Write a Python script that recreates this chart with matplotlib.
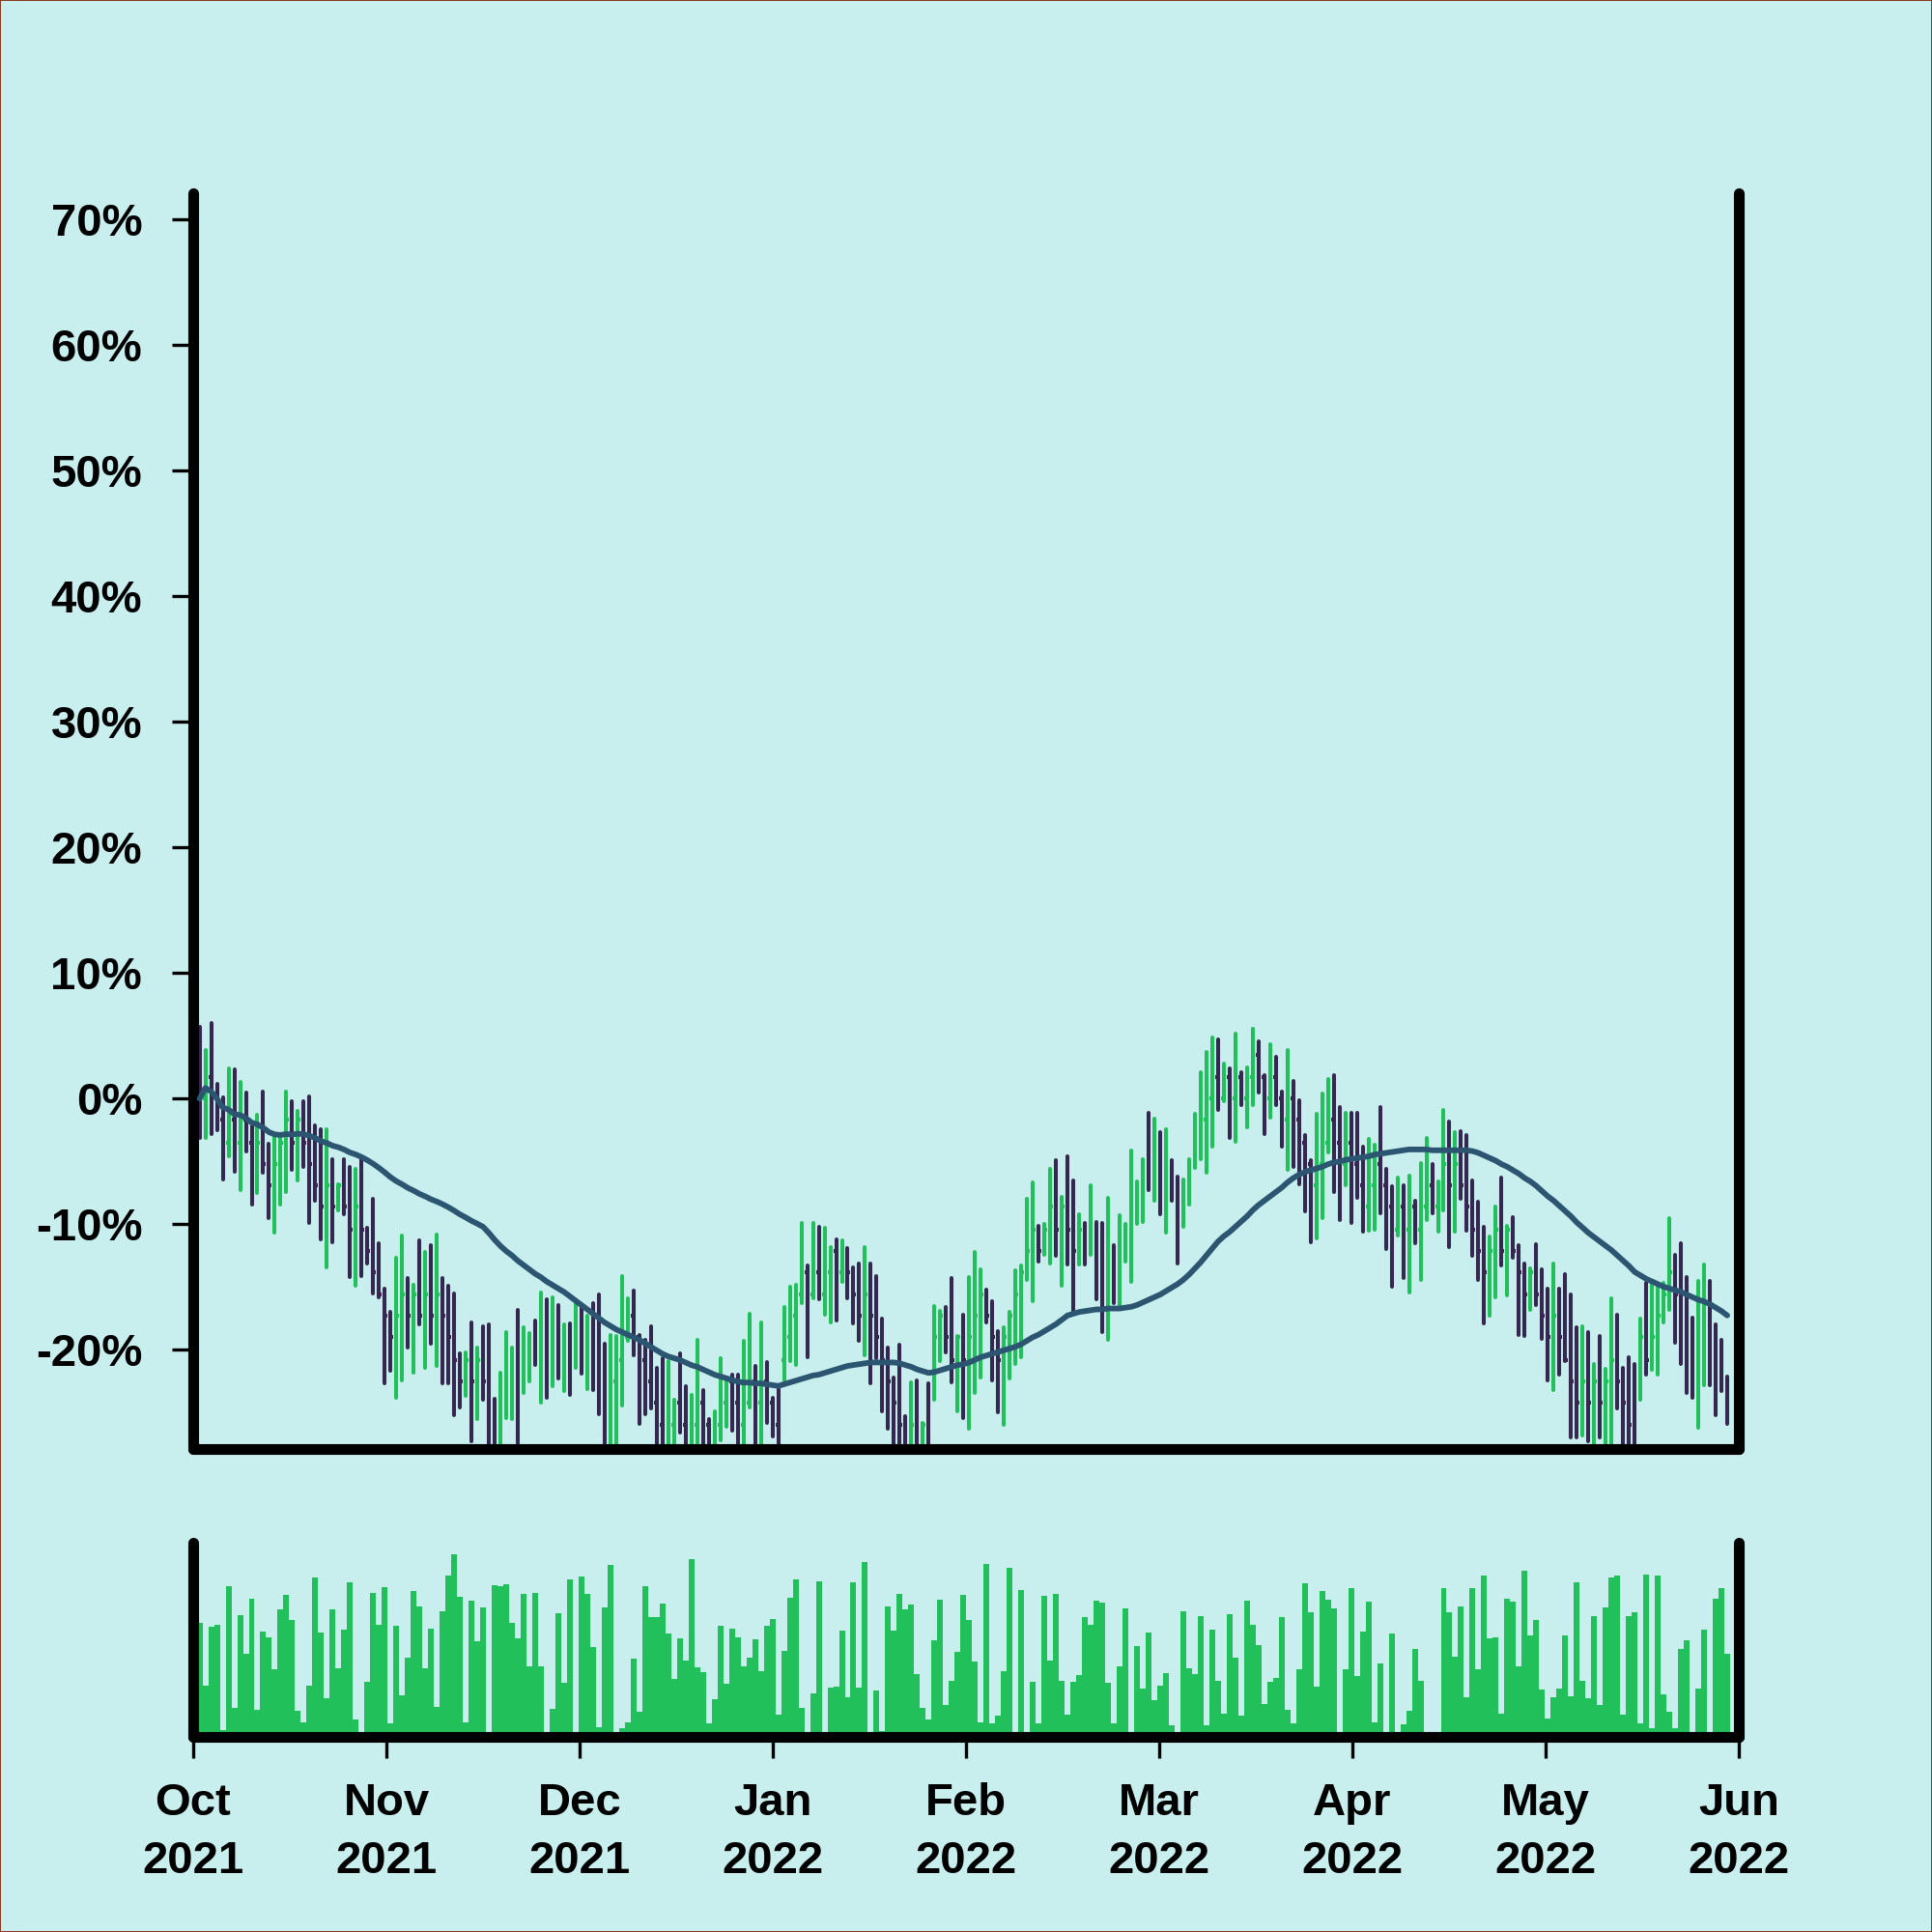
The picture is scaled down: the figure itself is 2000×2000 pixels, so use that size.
import numpy as np
import pandas as pd
import matplotlib
matplotlib.use('Agg')
import matplotlib.pyplot as plt

plt.rcParams['font.family'] = ['Liberation Sans', 'DejaVu Sans']
plt.rcParams['font.weight'] = 'bold'

# daily bars, values in % change
opens = [1.7, 0, 1.7, 0, -1.7, -3.5, -1.7, -3.5, -1.7, -3.5,
         -5.2, -3.5, -5.2, -6.9, -5.2, -3.5, -1.7, -3.5, -1.7, -3.5,
         -5.2, -6.9, -8.6, -6.9, -8.6, -6.9, -8.6, -10.4, -8.6, -10.4,
         -12.1, -13.8, -15.6, -17.3, -19.0, -17.3, -15.6, -17.3, -15.6, -17.3,
         -15.6, -17.3, -15.6, -17.3, -19.0, -20.8, -22.5, -20.8, -22.5, -20.8,
         -22.5, -24.2, -26.0, -24.2, -22.5, -20.8, -22.5, -20.8, -19.0, -20.8,
         -19.0, -20.8, -19.0, -20.8, -19.0, -20.8, -19.0, -20.8, -19.0, -20.8,
         -22.5, -24.2, -22.5, -20.8, -19.0, -17.3, -19.0, -20.8, -22.5, -24.2,
         -26.0, -27.7, -26.0, -24.2, -26.0, -27.7, -26.0, -24.2, -26.0, -27.7,
         -26.0, -24.2, -22.5, -24.2, -26.0, -24.2, -22.5, -24.2, -22.5, -24.2,
         -26.0, -20.8, -19.0, -17.3, -15.6, -13.8, -15.6, -13.8, -15.6, -13.8,
         -12.1, -13.8, -12.1, -13.8, -15.6, -17.3, -15.6, -17.3, -19.0, -20.8,
         -22.5, -24.2, -26.0, -27.7, -26.0, -27.7, -26.0, -20.8, -19.0, -17.3,
         -19.0, -20.8, -19.0, -20.8, -19.0, -17.3, -15.6, -17.3, -19.0, -20.8,
         -19.0, -17.3, -15.6, -13.8, -12.1, -10.4, -12.1, -10.4, -8.6, -10.4,
         -8.6, -10.4, -12.1, -10.4, -12.1, -10.4, -12.1, -13.8, -12.1, -13.8,
         -12.1, -10.4, -8.6, -6.9, -5.2, -6.9, -5.2, -6.9, -5.2, -6.9,
         -8.6, -6.9, -5.2, -3.5, -1.7, 0, 1.7, 0, 1.7, 0,
         1.7, 0, 1.7, 3.5, 1.7, 0, 1.7, 0, -1.7, 0,
         -1.7, -3.5, -5.2, -6.9, -5.2, -3.5, -1.7, -3.5, -5.2, -3.5,
         -5.2, -6.9, -8.6, -6.9, -5.2, -6.9, -8.6, -10.4, -8.6, -10.4,
         -8.6, -10.4, -8.6, -6.9, -8.6, -6.9, -5.2, -6.9, -5.2, -6.9,
         -8.6, -10.4, -12.1, -13.8, -12.1, -10.4, -12.1, -10.4, -12.1, -13.8,
         -15.6, -13.8, -15.6, -17.3, -19.0, -17.3, -19.0, -20.8, -22.5, -24.2,
         -22.5, -24.2, -22.5, -24.2, -22.5, -20.8, -22.5, -24.2, -26.0, -20.8,
         -19.0, -20.8, -19.0, -17.3, -15.6, -13.8, -15.6, -17.3, -19.0, -20.8,
         -19.0, -17.3, -19.0, -20.8, -22.5]

closes = [0, 1.7, 0, -1.7, -3.5, -1.7, -3.5, -1.7, -3.5, -5.2,
          -3.5, -5.2, -6.9, -5.2, -3.5, -1.7, -3.5, -1.7, -3.5, -5.2,
          -6.9, -8.6, -6.9, -8.6, -6.9, -8.6, -10.4, -8.6, -10.4, -12.1,
          -13.8, -15.6, -17.3, -19.0, -17.3, -15.6, -17.3, -15.6, -17.3, -15.6,
          -17.3, -15.6, -17.3, -19.0, -20.8, -22.5, -20.8, -22.5, -20.8, -22.5,
          -24.2, -26.0, -24.2, -22.5, -20.8, -22.5, -20.8, -19.0, -20.8, -19.0,
          -20.8, -19.0, -20.8, -19.0, -20.8, -19.0, -20.8, -19.0, -20.8, -22.5,
          -24.2, -22.5, -20.8, -19.0, -17.3, -19.0, -20.8, -22.5, -24.2, -26.0,
          -27.7, -26.0, -24.2, -26.0, -27.7, -26.0, -24.2, -26.0, -27.7, -26.0,
          -24.2, -22.5, -24.2, -26.0, -24.2, -22.5, -24.2, -22.5, -24.2, -26.0,
          -27.7, -19.0, -17.3, -15.6, -13.8, -15.6, -13.8, -15.6, -13.8, -12.1,
          -13.8, -12.1, -13.8, -15.6, -17.3, -15.6, -17.3, -19.0, -20.8, -22.5,
          -24.2, -26.0, -27.7, -26.0, -27.7, -26.0, -27.7, -19.0, -17.3, -19.0,
          -20.8, -19.0, -20.8, -19.0, -17.3, -15.6, -17.3, -19.0, -20.8, -19.0,
          -17.3, -15.6, -13.8, -12.1, -10.4, -12.1, -10.4, -8.6, -10.4, -8.6,
          -10.4, -12.1, -10.4, -12.1, -10.4, -12.1, -13.8, -12.1, -13.8, -12.1,
          -10.4, -8.6, -6.9, -5.2, -6.9, -5.2, -6.9, -5.2, -6.9, -8.6,
          -6.9, -5.2, -3.5, -1.7, 0, 1.7, 0, 1.7, 0, 1.7,
          0, 1.7, 3.5, 1.7, 0, 1.7, 0, -1.7, 0, -1.7,
          -3.5, -5.2, -6.9, -5.2, -3.5, -1.7, -3.5, -5.2, -3.5, -5.2,
          -6.9, -8.6, -6.9, -5.2, -6.9, -8.6, -10.4, -8.6, -10.4, -8.6,
          -10.4, -8.6, -6.9, -8.6, -6.9, -5.2, -6.9, -5.2, -6.9, -8.6,
          -10.4, -12.1, -13.8, -12.1, -10.4, -12.1, -10.4, -12.1, -13.8, -15.6,
          -13.8, -15.6, -17.3, -19.0, -17.3, -19.0, -20.8, -22.5, -24.2, -22.5,
          -24.2, -22.5, -24.2, -22.5, -20.8, -22.5, -24.2, -26.0, -27.7, -19.0,
          -20.8, -19.0, -17.3, -15.6, -13.8, -15.6, -17.3, -19.0, -20.8, -19.0,
          -17.3, -19.0, -20.8, -22.5, -24.2]

highs = [5.7, 3.9, 6.0, 1.2, 0.1, 2.4, 2.3, 1.3, 0.5, -2.2,
         -1.3, 0.6, -3.6, -2.9, -2.9, 0.6, -0.2, -1.0, -0.2, 0.2,
         -2.1, -2.4, -2.4, -4.8, -6.8, -4.8, -5.4, -5.6, -4.8, -10.3,
         -8.0, -11.5, -15.1, -17.0, -12.7, -10.9, -14.3, -14.8, -11.3, -12.2,
         -11.7, -10.8, -14.3, -14.9, -15.5, -20.3, -20.2, -17.8, -19.8, -18.1,
         -18.0, -23.9, -21.8, -18.6, -19.8, -16.8, -18.2, -18.7, -17.7, -15.4,
         -16.0, -15.8, -16.4, -18.0, -17.9, -16.1, -16.5, -17.3, -16.3, -15.6,
         -19.5, -18.8, -18.9, -14.1, -15.9, -15.3, -18.8, -19.2, -18.1, -21.4,
         -20.7, -20.9, -24.0, -20.3, -22.9, -23.6, -19.2, -23.2, -25.5, -24.9,
         -20.7, -22.4, -22.0, -22.0, -19.3, -17.1, -21.3, -17.8, -21.0, -23.8,
         -23.1, -16.6, -15.0, -14.8, -9.9, -13.3, -9.9, -10.2, -10.3, -11.8,
         -11.2, -11.3, -11.9, -13.4, -13.1, -11.8, -13.1, -14.1, -17.5, -19.8,
         -22.2, -19.6, -25.3, -22.6, -22.4, -25.8, -22.7, -16.5, -16.9, -16.6,
         -14.3, -18.9, -17.2, -14.2, -12.2, -13.6, -15.2, -16.1, -18.5, -18.2,
         -17.0, -13.7, -13.3, -8.0, -6.7, -10.1, -10.0, -5.6, -4.9, -7.8,
         -4.6, -6.5, -9.2, -9.9, -6.9, -9.8, -9.9, -7.9, -11.7, -9.3,
         -10.0, -4.1, -6.6, -4.8, -1.1, -1.6, -2.7, -2.4, -4.9, -6.2,
         -6.4, -4.8, -1.2, 2.1, 3.7, 4.9, 4.7, 2.8, 2.4, 5.2,
         2.1, 2.5, 5.6, 4.6, 1.9, 4.3, 3.3, 0.6, 3.9, 1.4,
         -0.1, -2.9, -4.9, -1.2, 0.4, 1.6, 1.9, -0.7, -1.1, -1.1,
         -1.1, -3.8, -3.2, -3.7, -0.7, -5.6, -7.0, -6.3, -6.9, -6.1,
         -8.1, -5.1, -3.1, -5.2, -6.6, -0.9, -1.8, -2.7, -2.6, -2.9,
         -6.5, -8.2, -10.2, -11.0, -8.6, -6.3, -10.1, -9.4, -11.7, -13.1,
         -13.5, -11.6, -13.6, -15.1, -13.1, -15.1, -14.0, -15.6, -18.2, -18.1,
         -18.6, -21.1, -18.9, -21.5, -15.9, -17.2, -21.4, -20.6, -21.1, -17.5,
         -14.7, -14.8, -15.0, -14.7, -9.5, -12.4, -11.5, -14.2, -17.4, -14.5,
         -13.2, -14.5, -18.0, -19.2, -22.1]

lows = [-3.1, -3.1, -2.8, -2.5, -6.4, -4.6, -5.8, -7.3, -4.2, -8.4,
        -7.5, -5.9, -9.5, -10.7, -8.4, -7.4, -5.7, -6.5, -5.4, -9.9,
        -8.1, -11.2, -13.4, -11.4, -8.9, -9.2, -14.2, -14.9, -14.1, -13.1,
        -15.5, -15.8, -22.7, -21.7, -23.8, -22.4, -19.8, -21.8, -18.0, -21.4,
        -19.5, -21.3, -22.7, -22.7, -25.2, -24.6, -23.7, -27.3, -25.5, -24.0,
        -29, -29, -29, -25.4, -25.5, -27.4, -23.4, -22.5, -21.2, -24.2,
        -23.8, -22.9, -22.3, -23.3, -23.6, -21.4, -21.9, -23.1, -23.2, -25.1,
        -29, -29, -29, -24.4, -19.3, -20.4, -25.9, -25.1, -24.7, -29,
        -29, -29, -29, -26.6, -29, -29, -29, -29, -29, -29,
        -27.2, -26.1, -26.4, -29, -29, -24.6, -29, -29, -25.8, -26.9,
        -29, -22.4, -20.9, -21.2, -16.3, -20.6, -15.9, -16.0, -17.2, -17.8,
        -17.7, -14.6, -15.9, -17.9, -19.3, -20.4, -22.7, -20.7, -24.9, -26.3,
        -29, -29, -29, -29, -29, -29, -29, -24.0, -20.9, -20.2,
        -22.6, -24.9, -25.4, -26.3, -23.4, -22.2, -17.8, -22.4, -25.0, -26.0,
        -22.3, -21.1, -20.6, -14.4, -16.1, -13.0, -12.4, -13.1, -12.5, -14.9,
        -13.2, -16.9, -13.2, -13.2, -12.4, -16.0, -18.6, -19.2, -16.3, -16.7,
        -13.0, -14.6, -10.0, -9.8, -7.3, -8.1, -9.2, -10.7, -8.1, -13.1,
        -10.2, -8.4, -5.5, -4.8, -5.9, -3.8, -0.9, -0.2, -3.1, -3.4,
        -0.5, -2.3, -0.5, 0.5, -2.8, -1.5, -0.5, -3.8, -5.7, -5.4,
        -6.8, -9.0, -11.4, -11.1, -9.5, -4.3, -7.4, -9.7, -6.9, -9.9,
        -7.9, -10.6, -10.5, -10.4, -9.1, -12.0, -15.0, -10.9, -14.3, -15.4,
        -11.5, -14.4, -9.7, -9.1, -10.6, -8.9, -11.8, -10.6, -8.0, -10.5,
        -12.5, -14.4, -17.9, -17.3, -15.8, -13.3, -15.7, -12.7, -18.8, -18.9,
        -16.8, -16.4, -19.1, -22.4, -23.2, -22.0, -20.9, -27.0, -27.0, -26.8,
        -27.3, -29, -27.0, -29, -29, -24.7, -29, -29, -29, -24.0,
        -22.0, -21.6, -22.0, -17.8, -16.8, -19.4, -21.1, -23.4, -23.8, -26.2,
        -22.8, -22.8, -25.2, -23.3, -25.9]

volumes = [347, 155, 334, 342, 22, 460, 87, 370, 254, 419,
           82, 320, 304, 205, 389, 432, 355, 80, 44, 155,
           484, 317, 119, 389, 209, 327, 469, 52, 2, 167,
           437, 342, 456, 40, 339, 127, 240, 445, 397, 210,
           330, 92, 382, 490, 557, 426, 45, 416, 290, 394,
           2, 462, 459, 464, 348, 300, 436, 215, 438, 215,
           2, 84, 375, 166, 479, 5, 489, 435, 274, 29,
           394, 522, 7, 27, 45, 239, 75, 459, 365, 364,
           407, 314, 177, 299, 232, 542, 212, 198, 40, 114,
           337, 162, 330, 304, 215, 242, 297, 199, 337, 358,
           67, 261, 423, 479, 87, 9, 131, 474, 8, 149,
           153, 322, 120, 469, 149, 532, 2, 142, 19, 396,
           322, 435, 388, 402, 192, 88, 53, 294, 418, 97,
           172, 259, 432, 356, 229, 44, 525, 40, 64, 201,
           516, 7, 446, 5, 168, 42, 429, 232, 434, 172,
           67, 168, 189, 365, 340, 416, 408, 166, 40, 215,
           392, 2, 277, 146, 317, 112, 156, 194, 34, 9,
           383, 210, 192, 368, 34, 327, 172, 70, 374, 240,
           64, 414, 342, 279, 100, 169, 180, 366, 81, 42,
           207, 467, 380, 152, 445, 417, 392, 2, 205, 454,
           184, 321, 413, 45, 222, 2, 314, 2, 38, 79,
           269, 171, 2, 2, 15, 453, 379, 243, 397, 120,
           452, 207, 491, 299, 302, 72, 420, 412, 214, 505,
           309, 355, 145, 57, 122, 147, 309, 124, 470, 171,
           118, 369, 97, 393, 484, 492, 69, 369, 379, 42,
           495, 27, 491, 129, 75, 25, 267, 294, 2, 146,
           326, 2, 420, 452, 252]

month_labels = ['Oct\n2021', 'Nov\n2021', 'Dec\n2021', 'Jan\n2022', 'Feb\n2022',
                'Mar\n2022', 'Apr\n2022', 'May\n2022', 'Jun\n2022']
y_ticks = [-20, -10, 0, 10, 20, 30, 40, 50, 60, 70]

bg = '#c8eeee'
up_col = '#22c05a'
down_col = '#35274f'
ma_col = '#2b5571'

op = np.array(opens)
cl = np.array(closes)
hi = np.array(highs)
lo = np.array(lows)
x = np.arange(len(cl))
cols = np.where(cl >= op, up_col, down_col)
ma = pd.Series(cl).rolling(50, min_periods=1).mean()

fig = plt.figure(figsize=(10, 10), dpi=200, facecolor=bg,
                 edgecolor='#8b3a22', linewidth=0.6)
ax = fig.add_axes([0.1, 0.25, 0.8, 0.65], facecolor=bg)
axv = fig.add_axes([0.1, 0.101, 0.8, 0.1005], facecolor=bg)

xlim = (-1.1, 266.0)

# ohlc bars
ax.vlines(x, lo, hi, colors=cols, linewidth=1.45, capstyle='round')
ax.hlines(op, x - 0.4, x, colors=cols, linewidth=1.45)
ax.hlines(cl, x, x + 0.4, colors=cols, linewidth=1.45)
ax.plot(x, ma, color=ma_col, lw=2.1, solid_capstyle='round', solid_joinstyle='round', zorder=3)

ax.set_xlim(*xlim)
ax.set_ylim(-27.9, 72.1)
ax.set_xticks([])
ax.set_yticks(y_ticks)
ax.set_yticklabels([f'{v}%' for v in y_ticks])
ax.tick_params(axis='y', length=8, width=1.2, pad=11, labelsize=17)

# volume
axv.bar(x, volumes, width=1.0, color=up_col, linewidth=0)
axv.set_xlim(*xlim)
axv.set_ylim(0, 591)
axv.set_yticks([])
axv.set_xticks(np.linspace(xlim[0], xlim[1], 9))
axv.set_xticklabels(month_labels, linespacing=1.45)
axv.tick_params(axis='x', length=8, width=1.2, pad=9, labelsize=17)

for a in (ax, axv):
    a.spines['top'].set_visible(False)
    for s in ('left', 'right', 'bottom'):
        a.spines[s].set_linewidth(4)
        a.spines[s].set_capstyle('round')

fig.savefig('out.png', facecolor=bg, edgecolor=fig.get_edgecolor())
